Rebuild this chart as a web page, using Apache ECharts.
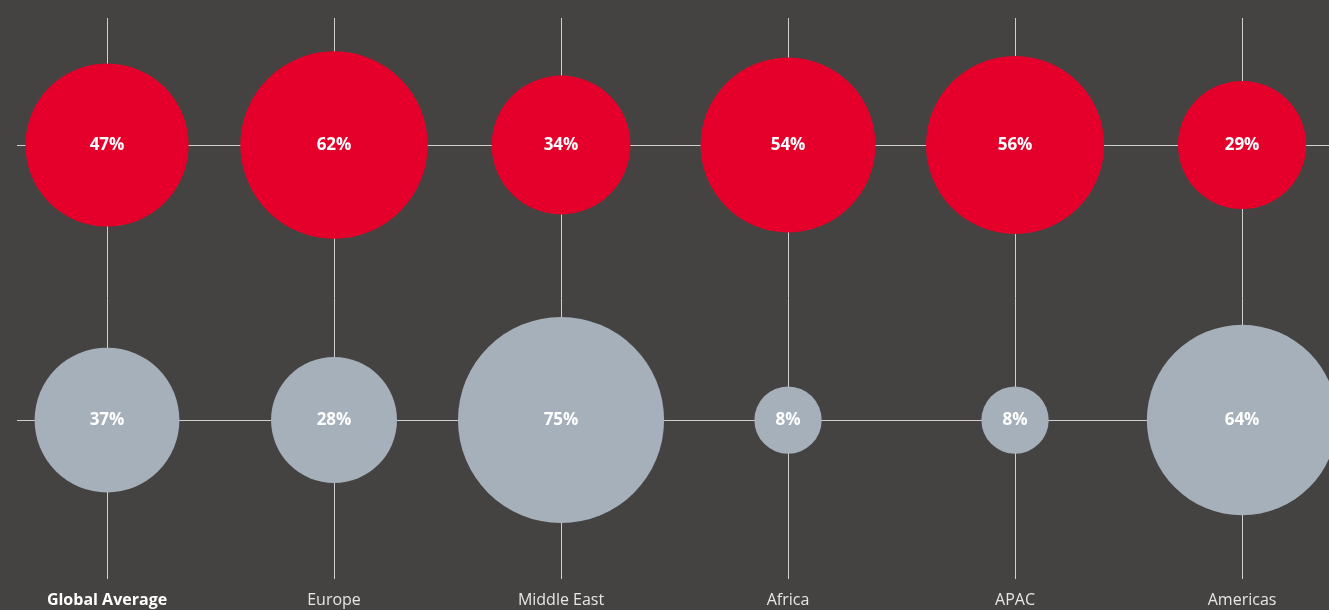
<!DOCTYPE html>
<html>
<head>
<meta charset="utf-8">
<script src="https://cdn.jsdelivr.net/npm/echarts@6/dist/echarts.min.js"></script>
<style>
  html, body { margin: 0; padding: 0; background: #454341; }
  #chart { width: 1329px; height: 610px; }
</style>
</head>
<body>
<div id="chart"></div>
<script>
const regions = ['Global Average', 'Europe', 'Middle East', 'Africa', 'APAC', 'Americas'];
const redValues = [47, 62, 34, 54, 56, 29];
const greyValues = [37, 28, 75, 8, 8, 64];
const rows = [1, 0]; // red row on top, grey row below

const redData = redValues.map((v, i) => [i, rows[0], v]);
const greyData = greyValues.map((v, i) => [i, rows[1], v]);

const chart = echarts.init(document.getElementById('chart'));

const bubbleSize = (val) => 23.8 * Math.sqrt(val[2]);
const bubbleLabel = {
  show: true,
  position: 'inside',
  formatter: (p) => p.value[2] + '%',
  color: '#ffffff',
  fontSize: 17,
  fontWeight: 'bold',
  fontFamily: 'Open Sans'
};

chart.setOption({
  backgroundColor: '#454341',
  animation: false,
  grid: {
    left: 17,
    right: 0,
    top: 18,
    bottom: 31
  },
  xAxis: {
    type: 'value',
    min: -0.3965,
    max: 5.383,
    splitLine: { show: false },
    axisLine: { show: false },
    axisTick: { show: false },
    axisLabel: {
      customValues: [0, 1, 2, 3, 4, 5],
      margin: 13,
      fontSize: 16,
      fontFamily: 'Open Sans',
      color: '#e6e6e6',
      formatter: (v) => {
        const name = regions[Math.round(v)];
        return Math.round(v) === 0 ? '{b|' + name + '}' : name;
      },
      rich: {
        b: { fontWeight: 'bold', fontSize: 16, fontFamily: 'Open Sans', color: '#ffffff' }
      }
    }
  },
  yAxis: {
    type: 'value',
    min: -0.578,
    max: 1.4618,
    show: false
  },
  series: [
    {
      type: 'scatter',
      data: [],
      zlevel: 0,
      markLine: {
        silent: true,
        symbol: 'none',
        label: { show: false },
        lineStyle: { color: '#cfcfcf', width: 1, type: 'solid' },
        data: regions.map((r, i) => ({ xAxis: i })).concat(rows.map((r) => ({ yAxis: r })))
      }
    },
    {
      name: 'red',
      type: 'scatter',
      zlevel: 1,
      data: redData,
      symbolSize: bubbleSize,
      itemStyle: { color: '#e4002b', opacity: 1 },
      label: bubbleLabel
    },
    {
      name: 'grey',
      type: 'scatter',
      zlevel: 1,
      data: greyData,
      symbolSize: bubbleSize,
      itemStyle: { color: '#a5b0bb', opacity: 1 },
      label: bubbleLabel
    }
  ]
});
</script>
</body>
</html>
